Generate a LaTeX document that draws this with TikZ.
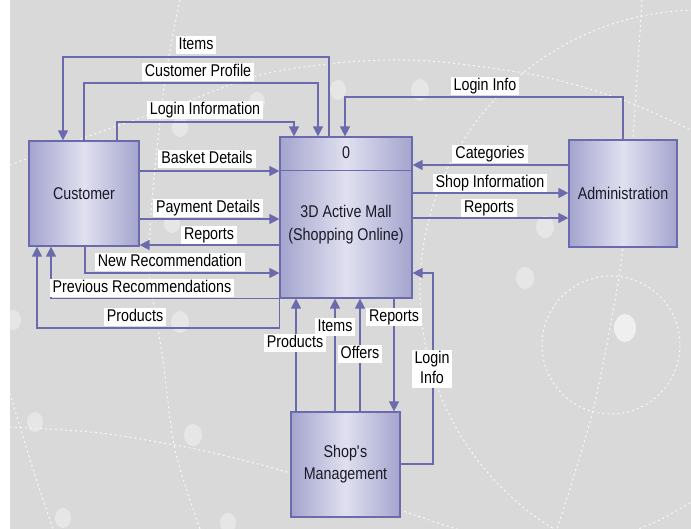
\documentclass[tikz,border=0pt]{standalone}
\usepackage{fontspec}
\setmainfont{Liberation Sans}[FakeStretch=0.84]
\usetikzlibrary{arrows.meta}

\definecolor{bggray}{RGB}{217,217,217}
\definecolor{flowblue}{RGB}{106,106,172}
\definecolor{boxedge}{RGB}{164,164,206}
\definecolor{boxmid}{RGB}{224,224,240}
\definecolor{inktext}{RGB}{25,25,40}

\tikzset{
  entity/.style={draw=flowblue, line width=1.2pt, left color=boxedge, right color=boxedge,
    middle color=boxmid, text=inktext, align=center, font=\fontsize{17}{22}\selectfont},
  flow/.style={draw=flowblue, line width=1.3pt, -{Triangle[length=10pt,width=10pt]}},
  lbl/.style={fill=white, inner xsep=3pt, inner ysep=1pt, text height=12.5pt, text depth=3pt,
    align=center, font=\fontsize{17}{20}\selectfont},
  deco/.style={draw=white, line width=1pt, dash pattern=on 2pt off 3pt, opacity=0.8},
  dot/.style={fill=white, opacity=0.35},
}

\begin{document}
\begin{tikzpicture}[x=1pt,y=-1pt]
    \useasboundingbox (0,0) rectangle (691,529);
    \fill[white] (0,0) rectangle (691,529);
    \fill[bggray] (10,0) rectangle (691,529);

    % background pattern
    \begin{scope}
        \clip (10,0) rectangle (691,529);
        \draw[deco] plot[smooth] coordinates {(10,165) (100,132) (180,104) (260,75) (347,62) (430,61) (540,76) (623,100) (691,130)};
        \draw[deco] (700,290) circle [radius=280];
        \draw[deco] (611,345) circle [radius=69];
        \draw[deco] plot[smooth] coordinates {(642,0) (632,150) (620,270) (593,410) (557,529)};
        \draw[deco] plot[smooth] coordinates {(180,0) (165,80) (152,200) (149,267) (153,300) (163,360) (175,450) (200,529)};
        \draw[deco] plot[smooth] coordinates {(10,393) (30,460) (53,529)};
        \draw[deco] plot[smooth] coordinates {(10,427) (100,433) (200,450) (290,473) (400,510) (450,527) (480,535)};
        \draw[deco] plot[smooth] coordinates {(630,532) (660,520) (691,502)};
        \foreach \dx/\dy/\rx/\ry in {338/90/8/10, 257/102/8/10, 180/127/8/10, 172/223/8/10,
            420/90/9/11, 545/227/9/11, 13/320/8/10, 180/322/9/11, 35/422/8/10, 193/435/9/11,
            63/518/8/10, 228/523/8/10, 525/278/9/11}
            \fill[dot] (\dx,\dy) ellipse [x radius=\rx, y radius=\ry];
        \fill[white, opacity=0.6] (625,328) ellipse [x radius=11, y radius=14];
    \end{scope}

    % entities and process
    \node[entity, minimum width=110pt, minimum height=105pt] (cust) at (84,193.5) {Customer};
    \node[entity, minimum width=108pt, minimum height=107pt] (admin) at (623,193.5) {Administration};
    \node[entity, minimum width=109pt, minimum height=105pt] (shop) at (345.5,464.5) {Shop\textquotesingle s\\Management};
    \node[entity, minimum width=132pt, minimum height=161pt] (mall) at (346,217.5) {};
    \draw[draw=flowblue, line width=1.2pt] ([yshift=-34pt]mall.north west) -- ([yshift=-34pt]mall.north east);
    \node[text=inktext, font=\fontsize{17}{22}\selectfont] (mallid) at (346,153) {0};
    \node[text=inktext, align=center, font=\fontsize{17}{23}\selectfont] (mallname) at (346,224.5) {3D Active Mall\\(Shopping Online)};

    % flows above
    \draw[flow] (329,0 |- mall.north) |- (63,57) -- (63,0 |- cust.north);
    \draw[flow] (84,0 |- cust.north) |- (318,83) -- (318,0 |- mall.north);
    \draw[flow] (117,0 |- cust.north) |- (294,122) -- (294,0 |- mall.north);
    \draw[flow] (admin.north) |- (345,97) -- (345,0 |- mall.north);

    % flows customer <-> mall
    \draw[flow] (cust.east |- 0,171) -- (mall.west |- 0,171);
    \draw[flow] (cust.east |- 0,219) -- (mall.west |- 0,219);
    \draw[flow] (mall.west |- 0,245) -- (cust.east |- 0,245);
    \draw[flow] (85,0 |- cust.south) |- (mall.west |- 0,273);
    \draw[flow] (mall.south west) -| (51,0 |- cust.south);
    \draw[flow] (mall.south west) |- (37,328) -- (37,0 |- cust.south);

    % flows mall <-> admin
    \draw[flow] (admin.west |- 0,165) -- (mall.east |- 0,165);
    \draw[flow] (mall.east |- 0,193) -- (admin.west |- 0,193);
    \draw[flow] (mall.east |- 0,218) -- (admin.west |- 0,218);

    % flows mall <-> shop
    \draw[flow] (296,0 |- shop.north) -- (296,0 |- mall.south);
    \draw[flow] (335,0 |- shop.north) -- (335,0 |- mall.south);
    \draw[flow] (360,0 |- shop.north) -- (360,0 |- mall.south);
    \draw[flow] (394,0 |- mall.south) -- (394,0 |- shop.north);
    \draw[flow] (shop.east |- 0,464) -| (433,273) -- (mall.east |- 0,273);

    % labels
    \node[lbl] (lblitems) at (196,45) {Items};
    \node[lbl] (lblprofile) at (198,72) {Customer Profile};
    \node[lbl] (lbllogin) at (205,110) {Login Information};
    \node[lbl] (lbladminlogin) at (485,86) {Login Info};
    \node[lbl] (lblcategories) at (490,154) {Categories};
    \node[lbl] (lblshopinfo) at (490,183) {Shop Information};
    \node[lbl] (lbladminreports) at (489,208) {Reports};
    \node[lbl] (lblbasket) at (207,159) {Basket Details};
    \node[lbl] (lblpayment) at (208,208) {Payment Details};
    \node[lbl] (lblcustreports) at (209,235) {Reports};
    \node[lbl] (lblnewrec) at (170,262) {New Recommendation};
    \node[lbl] (lblprevrec) at (142,288) {Previous Recommendations};
    \node[lbl] (lblcustproducts) at (135,317) {Products};
    \node[lbl] (lblshopproducts) at (295,343) {Products};
    \node[lbl] (lblshopitems) at (335,327) {Items};
    \node[lbl] (lbloffers) at (360,354) {Offers};
    \node[lbl] (lblshopreports) at (394,317) {Reports};
    \node[lbl, text height=32.5pt] (lblshoplogin) at (432,369) {Login\\Info};
\end{tikzpicture}
\end{document}
